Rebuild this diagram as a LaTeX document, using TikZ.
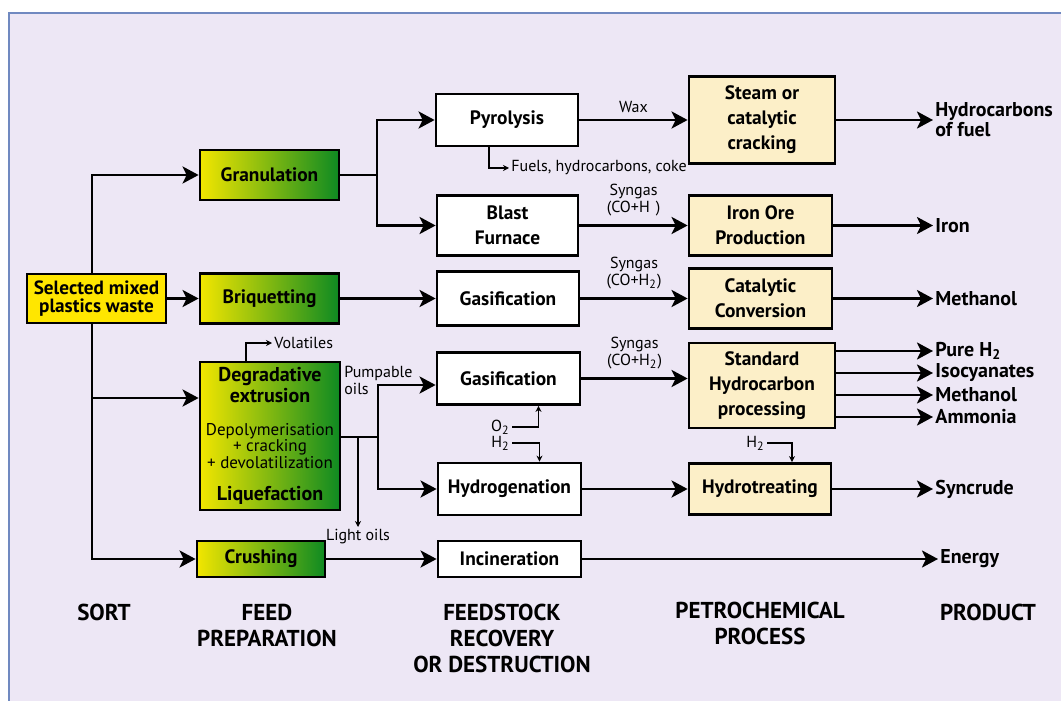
\documentclass[tikz,border=0pt]{standalone}
\usepackage{fontspec}
\setmainfont{PT Sans}
\usetikzlibrary{arrows.meta}

\definecolor{bgc}{HTML}{EDE7F5}
\definecolor{frc}{HTML}{7089C0}
\definecolor{sy}{HTML}{FFE600}
\definecolor{fy}{HTML}{F2E600}
\definecolor{fg}{HTML}{0E8A22}
\definecolor{pb}{HTML}{FCEFC8}

\begin{document}
\begin{tikzpicture}[x=0.5pt,y=-0.5pt,
  box/.style={draw,line width=1.4pt,align=center,inner sep=1pt,
    font=\bfseries\fontsize{9.7}{12.5}\selectfont},
  feed/.style={box,left color=fy,right color=fg},
  proc/.style={box,fill=white},
  petro/.style={box,fill=pb},
  prod/.style={anchor=west,inner sep=1pt,align=left,
    font=\bfseries\fontsize{10}{7.5}\selectfont},
  lab/.style={inner sep=1pt,align=center,font=\fontsize{8}{8.5}\selectfont},
  stage/.style={anchor=north,align=center,font=\bfseries\fontsize{11.5}{13}\selectfont},
  flow/.style={line width=1.3pt,-{Stealth[length=8pt,width=8.5pt,inset=2pt]}},
  side/.style={line width=0.6pt,-{Stealth[length=3pt,width=3pt]}}]

\useasboundingbox (0,0) rectangle (1061,701);
\fill[white] (0,0) rectangle (1061,701);
\filldraw[fill=bgc,draw=frc,line width=1pt] (9,13) rectangle (1075,715);

% sort
\node[box,fill=sy,minimum width=69.5pt,minimum height=24.5pt,
  font=\bfseries\fontsize{9.6}{8.6}\selectfont] (S) at (96.5,298.5) {Selected mixed\\plastics waste};

% feed preparation
\node[feed,minimum width=69.5pt,minimum height=25pt] (G) at (269.5,175) {Granulation};
\node[feed,minimum width=69.5pt,minimum height=25pt] (B) at (269.5,298.5) {Briquetting};
\node[feed,minimum width=70pt,minimum height=74pt,font=\fontsize{8.5}{7.8}\selectfont] (D) at (270,436)
  {\textbf{\fontsize{10}{8}\selectfont Degradative}\\\textbf{\fontsize{10}{8}\selectfont extrusion}\\[9pt]Depolymerisation\\+ cracking\\+ devolatilization\\[8pt]\textbf{\fontsize{10}{8}\selectfont Liquefaction}};
\node[feed,minimum width=64pt,minimum height=18pt] (C) at (261,559) {Crushing};

% feedstock recovery
\node[proc,minimum width=71pt,minimum height=26pt] (P) at (507,120) {Pyrolysis};
\node[proc,minimum width=70.5pt,minimum height=30pt] (F) at (507.5,225.5) {Blast\\Furnace};
\node[proc,minimum width=71pt,minimum height=27pt] (Q) at (508,298.5) {Gasification};
\node[proc,minimum width=71.5pt,minimum height=26pt] (R) at (508.5,378.5) {Gasification};
\node[proc,minimum width=71.5pt,minimum height=26pt] (H) at (509.5,489) {Hydrogenation};
\node[proc,minimum width=71.5pt,minimum height=18pt] (I) at (509.5,559) {Incineration};

% petrochemical
\node[petro,minimum width=73pt,minimum height=43.5pt] (K) at (762,120) {Steam or\\catalytic\\cracking};
\node[petro,minimum width=71.5pt,minimum height=30pt] (O) at (760.5,225.5) {Iron Ore\\Production};
\node[petro,minimum width=71.5pt,minimum height=30pt] (V) at (760.5,298.5) {Catalytic\\Conversion};
\node[petro,minimum width=73pt,minimum height=42.5pt] (X) at (762,385.5) {Standard\\Hydrocarbon\\processing};
\node[petro,minimum width=71pt,minimum height=25.5pt] (T) at (760,489) {Hydrotreating};

% products
\node[prod] (hc) at (933,120) {Hydrocarbons\\of fuel};
\node[prod] (ir) at (933,225.5) {Iron};
\node[prod] (m1) at (933,298.5) {Methanol};
\node[prod] (ph) at (933,351) {Pure H\textsubscript{2}};
\node[prod] (is) at (933,373) {Isocyanates};
\node[prod] (m2) at (933,395) {Methanol};
\node[prod] (am) at (933,417) {Ammonia};
\node[prod] (sc) at (933,489) {Syncrude};
\node[prod] (en) at (938,559) {Energy};

% side streams
\node[lab,anchor=west] (fu) at (509,168) {Fuels, hydrocarbons, coke};
\node[lab,anchor=west] (vo) at (272,343) {Volatiles};
\node[lab,anchor=north west,align=left] (pu) at (342,364) {Pumpable\\oils};
\node[lab,anchor=north] (lo) at (358,527) {Light oils};
\node[lab,anchor=east] (o1) at (512,427) {O\textsubscript{2}};
\node[lab,anchor=east] (h1) at (512,443) {H\textsubscript{2}};
\node[lab,anchor=east] (h3) at (767,443) {H\textsubscript{2}};

% stages
\node[stage] (st1) at (104,597) {SORT};
\node[stage] (st2) at (267,597) {FEED\\PREPARATION};
\node[stage] (st3) at (502,597) {FEEDSTOCK\\RECOVERY\\OR DESTRUCTION};
\node[stage] (st4) at (760,595) {PETROCHEMICAL\\PROCESS};
\node[stage] (st5) at (988,597) {PRODUCT};

\coordinate (t) at (92,398);
\coordinate (g) at (377,175);
\coordinate (k) at (378,437);
\coordinate (ga) at (378,385);

\draw[flow] (S.north -| t) |- (G);
\draw[flow] (S.south -| t) |- (C);
\draw[flow] (t) -- (t -| D.west);
\path[flow] (S) edge (B);
\draw[line width=1.3pt] (G) -- (g);
\draw[flow] (g) |- (P);
\draw[flow] (g) |- (F);
\path[flow] (P) edge node[lab,above=2pt] {Wax} (K);
\path[flow] (F) edge node[lab,above=3pt] {Syngas\\(CO+H\hspace{3pt})} (O);
\path[flow] (B) edge (Q);
\path[flow] (Q) edge node[lab,above=3pt] {Syngas\\(CO+H\textsubscript{2})} (V);
\draw[flow] (R) -- (R -| X.west) node[lab,midway,above=3pt] {Syngas\\(CO+H\textsubscript{2})};
\draw[line width=1.3pt] (D.east |- k) -- (k);
\draw[flow] (k) -- (ga) -- (ga -| R.west);
\draw[flow] (k) |- (H);
\path[flow] (H) edge (T);
\path[flow] (C) edge (I);
\path[flow] (I) edge (en);
\path[flow] (K) edge (hc);
\path[flow] (O) edge (ir);
\path[flow] (V) edge (m1);
\path[flow] (T) edge (sc);
\draw[flow] (X.east |- ph) -- (ph);
\draw[flow] (X.east |- is) -- (is);
\draw[flow] (X.east |- m2) -- (m2);
\draw[flow] (X.east |- am) -- (am);

\draw[side] ([xshift=-9pt]P.south) |- (fu);
\draw[side] ([xshift=-12pt]D.north) |- (vo);
\draw[side] (k -| lo) -- (lo);
\draw[side] (o1) -| ([xshift=15pt]R.south);
\draw[side] (h1) -| ([xshift=15pt]H.north);
\draw[side] (h3) -| ([xshift=16pt]T.north);
\end{tikzpicture}
\end{document}
